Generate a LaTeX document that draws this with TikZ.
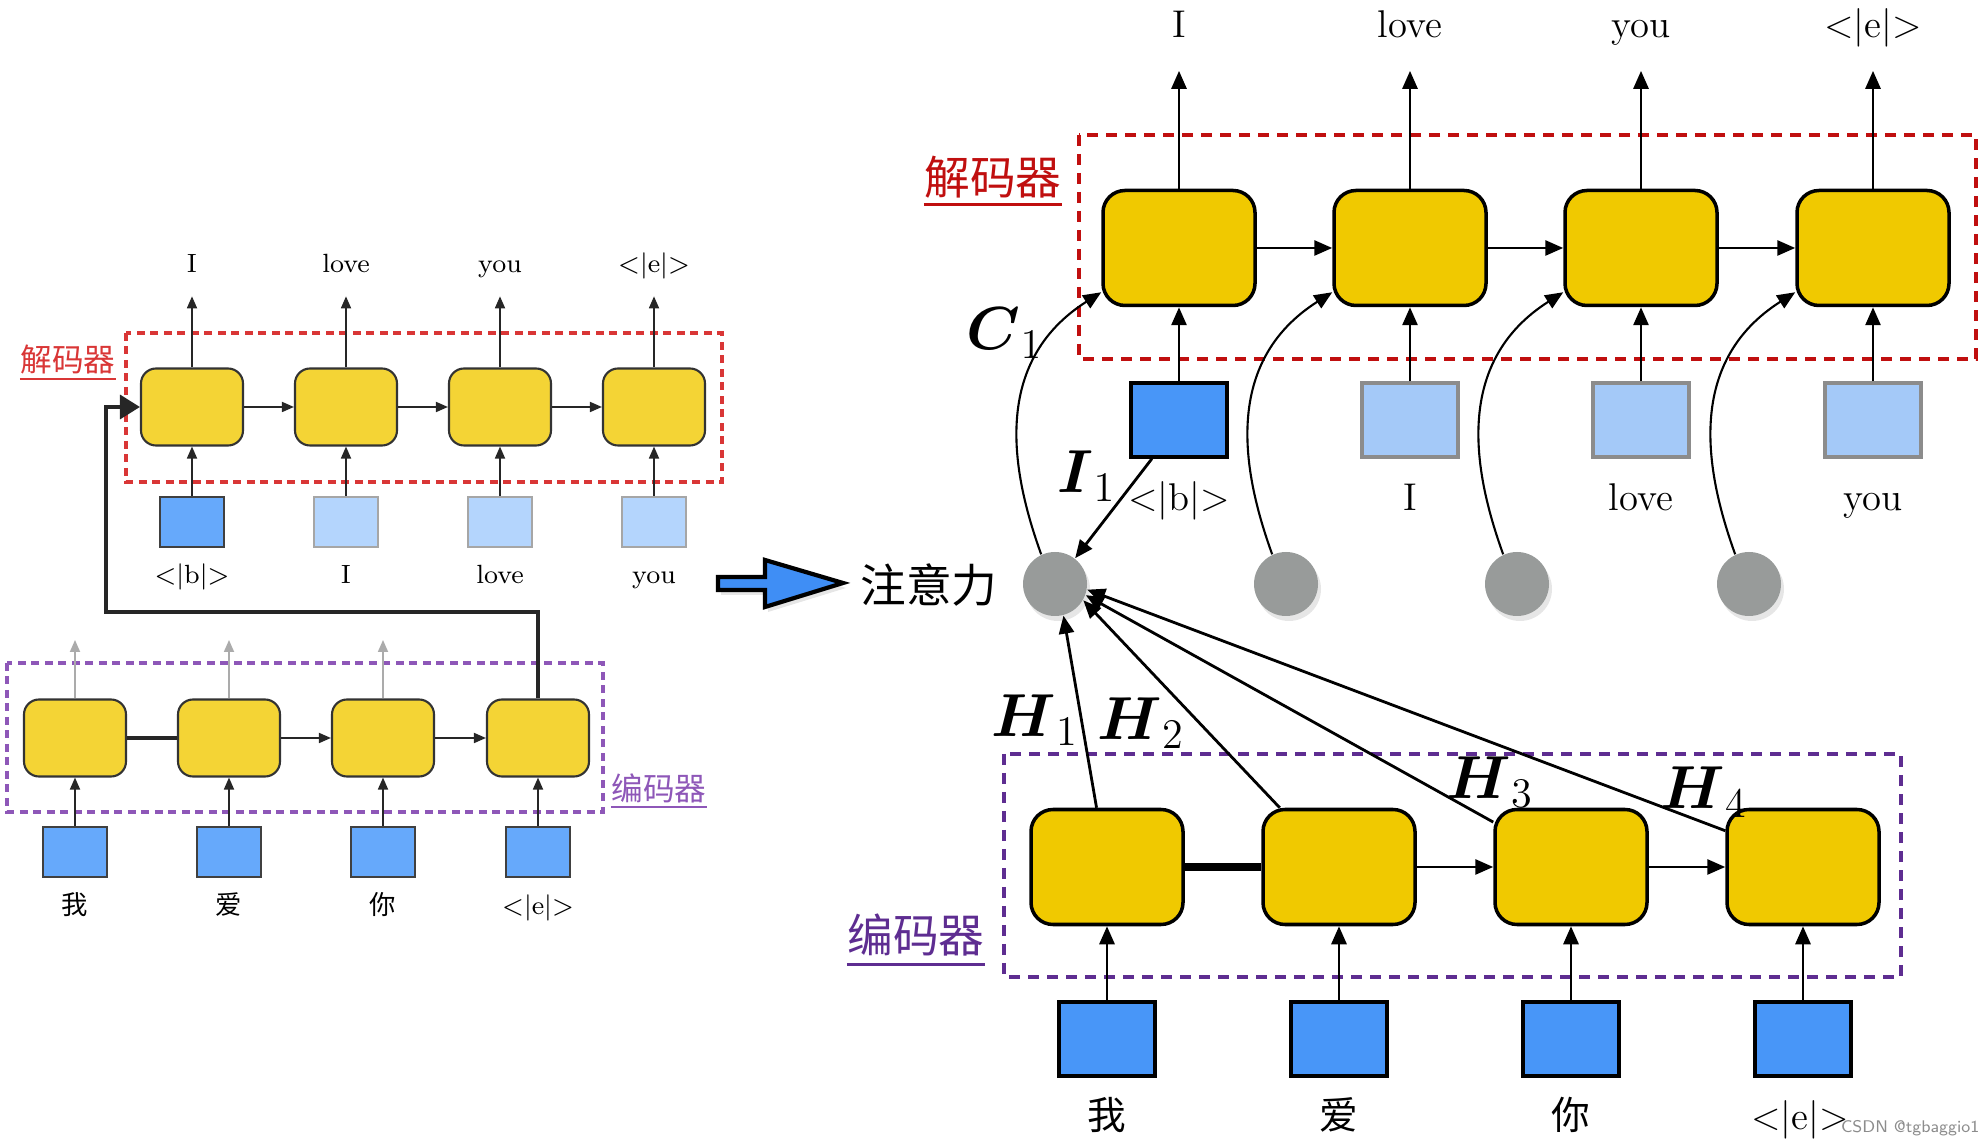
\documentclass[tikz,border=0pt]{standalone}
\usepackage{amsmath}
\usepackage{fontspec}
\newfontfamily\cjk{Noto Sans CJK SC}
\usetikzlibrary{arrows.meta,calc,shadows}
\definecolor{cellA}{HTML}{F4D435}
\definecolor{cellB}{HTML}{F0C900}
\definecolor{embA}{HTML}{66A9FB}
\definecolor{embB}{HTML}{4896F8}
\definecolor{embAlt}{HTML}{B4D5FD}
\definecolor{embBlt}{HTML}{A4C9F8}
\definecolor{decA}{HTML}{D93636}
\definecolor{decB}{HTML}{C00F0F}
\definecolor{encA}{HTML}{8E57B8}
\definecolor{encB}{HTML}{5E2D91}
\definecolor{attn}{HTML}{989B9A}
\definecolor{bigblue}{HTML}{3F8EF5}
\begin{document}
\begin{tikzpicture}[x=0.1mm,y=-0.1mm,>={Triangle[length=1.2mm,width=1mm]},
	cellS/.style={draw=black!80,line width=0.6pt,fill=cellA,rounded corners=1.5mm,minimum width=10.2mm,minimum height=7.7mm,inner sep=0pt},
	cellL/.style={draw=black,line width=1pt,fill=cellB,rounded corners=2.2mm,minimum width=15.2mm,minimum height=11.5mm,inner sep=0pt},
	embS/.style={draw=black!75,line width=0.6pt,fill=embA,minimum width=6.4mm,minimum height=5mm,inner sep=0pt},
	embSlt/.style={embS,draw=black!35,fill=embAlt},
	embL/.style={draw=black,line width=1pt,fill=embB,minimum width=9.6mm,minimum height=7.4mm,inner sep=0pt},
	embLlt/.style={embL,draw=black!45,fill=embBlt},
	attnc/.style={circle,fill=attn,minimum size=6.4mm,inner sep=0pt,drop shadow={opacity=.2,shadow xshift=.3mm,shadow yshift=-.5mm}},
	lab/.style={inner sep=0pt,text height=1.6ex,text depth=.4ex},
	labS/.style={lab,font=\fontsize{7.5}{9}\selectfont},
	labL/.style={lab,font=\fontsize{11}{13}\selectfont},
	hanS/.style={lab,font=\cjk\fontsize{7.5}{9}\selectfont},
	hanL/.style={lab,font=\cjk\fontsize{11}{13}\selectfont},
	arrS/.style={->,line width=0.5pt,black!85},
	arrL/.style={->,line width=0.8pt,>={Triangle[length=1.8mm,width=1.5mm]}},
	sym/.style={inner sep=0pt,font=\LARGE}]
	\useasboundingbox (0,0) rectangle (1984,1146);
	
	% ---- left: decoder
	\draw[decA,line width=0.9pt,dash pattern=on 0.8mm off 0.55mm] (126,333) rectangle (722,482);
	\node[cellS] (ld1) at (192,407) {};
	\node[cellS] (ld2) at (346,407) {};
	\node[cellS] (ld3) at (500,407) {};
	\node[cellS] (ld4) at (654,407) {};
	\node[embS] (lx1) at (192,522) {};
	\node[embSlt] (lx2) at (346,522) {};
	\node[embSlt] (lx3) at (500,522) {};
	\node[embSlt] (lx4) at (654,522) {};
	\node[labS] (lxl1) at (192,574) {<|b|>};
	\node[labS] (lxl2) at (346,574) {I};
	\node[labS] (lxl3) at (500,574) {love};
	\node[labS] (lxl4) at (654,574) {you};
	\node[labS] (lo1) at (192,263) {I};
	\node[labS] (lo2) at (346,263) {love};
	\node[labS] (lo3) at (500,263) {you};
	\node[labS] (lo4) at (654,263) {<|e|>};
	\draw[arrS] (ld1) -- (ld2);
	\draw[arrS] (ld2) -- (ld3);
	\draw[arrS] (ld3) -- (ld4);
	\draw[arrS] (lx1) -- (ld1);
	\draw[arrS] (lx2) -- (ld2);
	\draw[arrS] (lx3) -- (ld3);
	\draw[arrS] (lx4) -- (ld4);
	\draw[arrS,shorten >=1.75mm] (ld1) -- (lo1);
	\draw[arrS,shorten >=1.75mm] (ld2) -- (lo2);
	\draw[arrS,shorten >=1.75mm] (ld3) -- (lo3);
	\draw[arrS,shorten >=1.75mm] (ld4) -- (lo4);
	\node[text=decA,font=\cjk\fontsize{9}{11}\selectfont,inner sep=0pt] (ldec) at (68,360) {解码器};
	\draw[decA,line width=0.6pt] ([yshift=-0.4mm]ldec.south west) -- ([yshift=-0.4mm]ldec.south east);
	
	% ---- left: encoder
	\draw[encA,line width=0.9pt,dash pattern=on 0.8mm off 0.55mm] (7,663) rectangle (603,812);
	\node[cellS] (le1) at (75,738) {};
	\node[cellS] (le2) at (229,738) {};
	\node[cellS] (le3) at (383,738) {};
	\node[cellS] (le4) at (538,738) {};
	\node[embS] (li1) at (75,852) {};
	\node[embS] (li2) at (229,852) {};
	\node[embS] (li3) at (383,852) {};
	\node[embS] (li4) at (538,852) {};
	\node[hanS] (lil1) at (75,905) {我};
	\node[hanS] (lil2) at (229,905) {爱};
	\node[hanS] (lil3) at (383,905) {你};
	\node[labS] (lil4) at (538,905) {<|e|>};
	\draw[line width=1.4pt,black!85] (le1) -- (le2);
	\draw[arrS] (le2) -- (le3);
	\draw[arrS] (le3) -- (le4);
	\draw[arrS] (li1) -- (le1);
	\draw[arrS] (li2) -- (le2);
	\draw[arrS] (li3) -- (le3);
	\draw[arrS] (li4) -- (le4);
	\draw[arrS,black!33] (le1) -- ++(0,-98);
	\draw[arrS,black!33] (le2) -- ++(0,-98);
	\draw[arrS,black!33] (le3) -- ++(0,-98);
	\node[text=encA,font=\cjk\fontsize{9}{11}\selectfont,inner sep=0pt] (lenc) at (659,788) {编码器};
	\draw[encA,line width=0.6pt] ([yshift=-0.4mm]lenc.south west) -- ([yshift=-0.4mm]lenc.south east);
	\coordinate (lbend) at (106,612);
	\draw[line width=1pt,black!85,->,>={Triangle[length=2mm,width=2.4mm]}] (le4.north) |- (lbend) |- (ld1.west);
	
	% ---- middle
	\draw[line width=1.2pt,fill=bigblue,drop shadow={opacity=.2,shadow xshift=.3mm,shadow yshift=-.5mm}] (718,577) -- (765,577) -- (765,560) -- (843,583) -- (765,607) -- (765,590) -- (718,590) -- cycle;
	\node[font=\cjk\fontsize{13}{15}\selectfont,inner sep=0pt] (attnlab) at (929,585) {注意力};
	
	% ---- right: decoder
	\draw[decB,line width=1.3pt,dash pattern=on 1.1mm off 0.8mm] (1079,135) rectangle (1976,359);
	\node[cellL] (rd1) at (1179,248) {};
	\node[cellL] (rd2) at (1410,248) {};
	\node[cellL] (rd3) at (1641,248) {};
	\node[cellL] (rd4) at (1873,248) {};
	\node[embL] (rx1) at (1179,420) {};
	\node[embLlt] (rx2) at (1410,420) {};
	\node[embLlt] (rx3) at (1641,420) {};
	\node[embLlt] (rx4) at (1873,420) {};
	\node[labL] (rxl1) at (1179,501) {<|b|>};
	\node[labL] (rxl2) at (1410,501) {I};
	\node[labL] (rxl3) at (1641,501) {love};
	\node[labL] (rxl4) at (1873,501) {you};
	\node[labL] (ro1) at (1179,28) {I};
	\node[labL] (ro2) at (1410,28) {love};
	\node[labL] (ro3) at (1641,28) {you};
	\node[labL] (ro4) at (1873,28) {<|e|>};
	\draw[arrL] (rd1) -- (rd2);
	\draw[arrL] (rd2) -- (rd3);
	\draw[arrL] (rd3) -- (rd4);
	\draw[arrL] (rx1) -- (rd1);
	\draw[arrL] (rx2) -- (rd2);
	\draw[arrL] (rx3) -- (rd3);
	\draw[arrL] (rx4) -- (rd4);
	\draw[arrL,shorten >=2.7mm] (rd1) -- (ro1);
	\draw[arrL,shorten >=2.7mm] (rd2) -- (ro2);
	\draw[arrL,shorten >=2.7mm] (rd3) -- (ro3);
	\draw[arrL,shorten >=2.7mm] (rd4) -- (ro4);
	\node[text=decB,font=\cjk\fontsize{13}{15}\selectfont,inner sep=0pt] (rdec) at (993,177) {解码器};
	\draw[decB,line width=0.9pt] ([yshift=-0.6mm]rdec.south west) -- ([yshift=-0.6mm]rdec.south east);
	
	% ---- right: attention
	\node[attnc] (rc1) at (1055,584) {};
	\node[attnc] (rc2) at (1286,584) {};
	\node[attnc] (rc3) at (1517,584) {};
	\node[attnc] (rc4) at (1749,584) {};
	\draw[arrL,line width=0.6pt] (rc1.115) .. controls +(-30,-83) and +(-110,70) .. ($(rd1.south west)+(0,-15)$);
	\draw[arrL,line width=0.6pt] (rc2.115) .. controls +(-30,-83) and +(-110,70) .. ($(rd2.south west)+(0,-15)$);
	\draw[arrL,line width=0.6pt] (rc3.115) .. controls +(-30,-83) and +(-110,70) .. ($(rd3.south west)+(0,-15)$);
	\draw[arrL,line width=0.6pt] (rc4.115) .. controls +(-30,-83) and +(-110,70) .. ($(rd4.south west)+(0,-15)$);
	\draw[arrL] (rx1.235) -- (rc1.52);
	\node[sym] (c1lab) at (1005,333) {$\boldsymbol{C}_1$};
	\node[sym] (i1lab) at (1087,476) {$\boldsymbol{I}_1$};
	
	% ---- right: encoder
	\draw[encB,line width=1.3pt,dash pattern=on 1.1mm off 0.8mm] (1004,754) rectangle (1901,977);
	\node[cellL] (re1) at (1107,867) {};
	\node[cellL] (re2) at (1339,867) {};
	\node[cellL] (re3) at (1571,867) {};
	\node[cellL] (re4) at (1803,867) {};
	\node[embL] (ri1) at (1107,1039) {};
	\node[embL] (ri2) at (1339,1039) {};
	\node[embL] (ri3) at (1571,1039) {};
	\node[embL] (ri4) at (1803,1039) {};
	\node[hanL] (ril1) at (1107,1120) {我};
	\node[hanL] (ril2) at (1339,1120) {爱};
	\node[hanL] (ril3) at (1571,1120) {你};
	\node[labL] (ril4) at (1800,1120) {<|e|>};
	\draw[line width=2pt] (re1) -- (re2);
	\draw[arrL] (re2) -- (re3);
	\draw[arrL] (re3) -- (re4);
	\draw[arrL] (ri1) -- (re1);
	\draw[arrL] (ri2) -- (re2);
	\draw[arrL] (ri3) -- (re3);
	\draw[arrL] (ri4) -- (re4);
	\draw[arrL] (re1.100) -- (rc1.285);
	\draw[arrL] (re2.135) -- (rc1.330);
	\draw[arrL] (re3.150) -- (rc1.340);
	\draw[arrL] (re4.155) -- (rc1.350);
	\node[sym] (h1lab) at (1035,720) {$\boldsymbol{H}_1$};
	\node[sym] (h2lab) at (1141,723) {$\boldsymbol{H}_2$};
	\node[sym] (h3lab) at (1490,782) {$\boldsymbol{H}_3$};
	\node[sym] (h4lab) at (1704,792) {$\boldsymbol{H}_4$};
	\node[text=encB,font=\cjk\fontsize{13}{15}\selectfont,inner sep=0pt] (renc) at (916,935) {编码器};
	\draw[encB,line width=0.9pt] ([yshift=-0.8mm]renc.south west) -- ([yshift=-0.8mm]renc.south east);
	\node[text=black!45,font=\sffamily\fontsize{4.8}{6}\selectfont,inner sep=0pt,anchor=east] (wm) at (1980,1128) {CSDN @tgbaggio1};
	
\end{tikzpicture}
\end{document}
